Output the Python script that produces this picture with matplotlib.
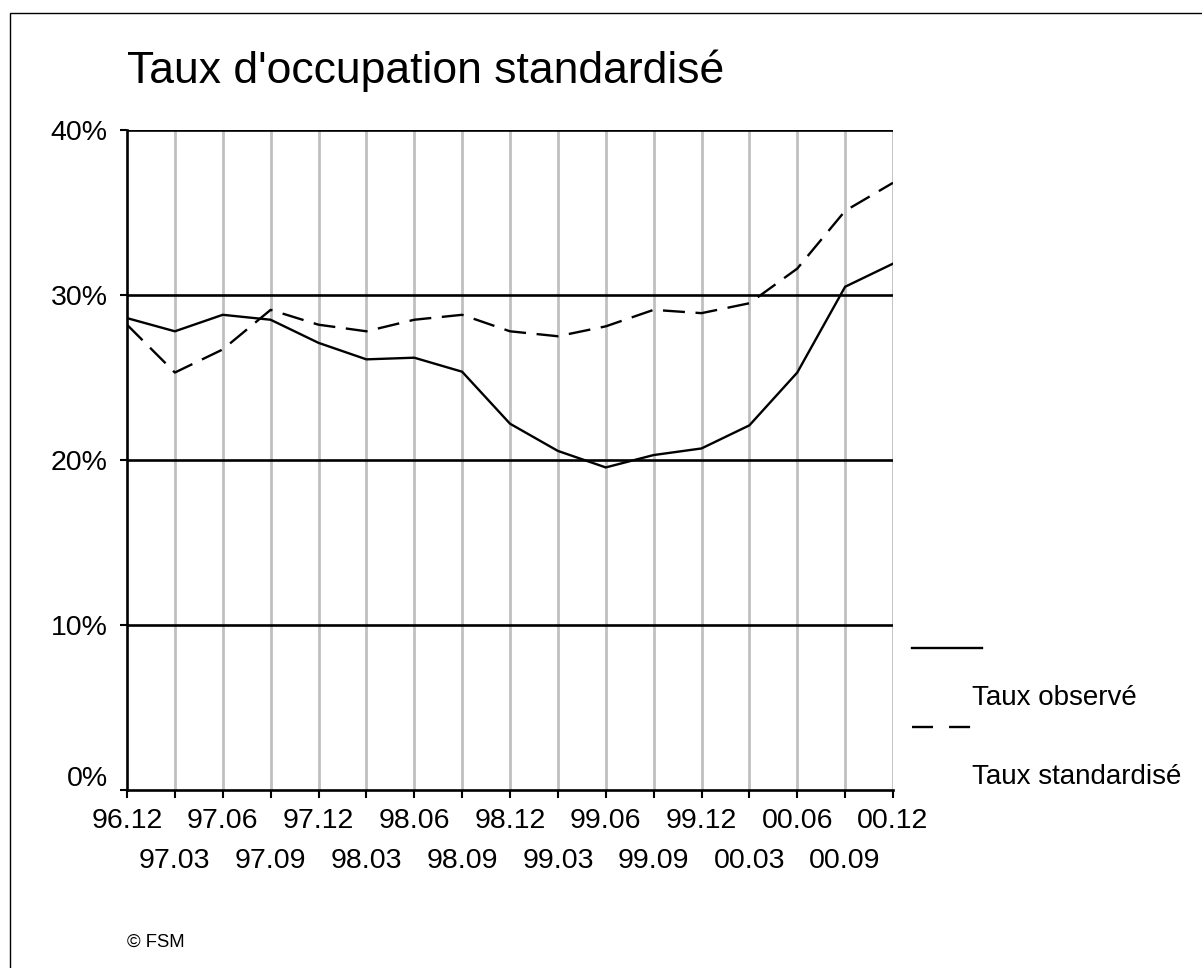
import matplotlib
matplotlib.use("Agg")
import matplotlib.pyplot as plt
import matplotlib.transforms as mtrans
from matplotlib.lines import Line2D
from matplotlib.patches import Rectangle

# Data (quarterly, in %)

quarters = ["96.12", "97.03", "97.06", "97.09", "97.12", "98.03", "98.06", "98.09",
            "98.12", "99.03", "99.06", "99.09", "99.12", "00.03", "00.06", "00.09",
            "00.12"]

taux_observe = [28.6, 27.8, 28.8, 28.5, 27.1, 26.1, 26.2, 25.35,
                22.2, 20.55, 19.55, 20.3, 20.7, 22.1, 25.3, 30.5,
                31.9]

taux_standardise = [28.2, 25.3, 26.7, 29.1, 28.2, 27.8, 28.5, 28.8,
                    27.8, 27.5, 28.1, 29.1, 28.9, 29.5, 31.6, 35.1,
                    36.8]

y_ticks = [0, 10, 20, 30, 40]

# --------------------------------------------------------------------------------------------------

plt.rcParams['font.family'] = ['Liberation Sans', 'DejaVu Sans']

W, H = 1202, 968
fig = plt.figure(figsize=(W / 100, H / 100), dpi=100)
ax = fig.add_axes([127 / W, 1 - 790 / H, (893 - 127) / W, (790 - 130) / H])

x = list(range(len(quarters)))

ax.plot(x, taux_observe, color='black', lw=1.7, solid_joinstyle='miter', zorder=4)
ax.plot(x, taux_standardise, color='black', lw=1.7, linestyle=(0, (9.3, 4.5)), zorder=4)

ax.set_xlim(0, len(quarters) - 1)
ax.set_ylim(0, 40)

# grid: black horizontal, light grey vertical
for v in y_ticks[1:]:
    ax.axhline(v, color='black', lw=1.9, zorder=2)
for xi in x[1:]:
    ax.axvline(xi, color='#c0c0c0', lw=2, zorder=1)

for side in ['top', 'right']:
    ax.spines[side].set_visible(False)
for side in ['left', 'bottom']:
    ax.spines[side].set_linewidth(1.9)
    ax.spines[side].set_zorder(3)

# ticks
ax.set_yticks(y_ticks)
ax.set_yticklabels([f"{v}%" for v in y_ticks])
ax.tick_params(axis='y', direction='out', length=5, width=1.5, pad=9, labelsize=20.5)

ax.set_xticks(x[0::2])
ax.set_xticklabels(quarters[0::2])
ax.set_xticks(x[1::2], minor=True)
ax.set_xticklabels(quarters[1::2], minor=True)
ax.tick_params(axis='x', which='major', direction='out', length=6, width=1.5, pad=7,
               labelsize=20.5)
ax.tick_params(axis='x', which='minor', direction='out', length=6, width=1.5, pad=36,
               labelsize=20.5)

# raise the 0% label a little
lab0 = ax.yaxis.get_major_ticks()[0].label1
lab0.set_transform(lab0.get_transform() +
                   mtrans.ScaledTranslation(0, 14 / 100, fig.dpi_scale_trans))

# --------------------------------------------------------------------------------------------------

# Title and credits
fig.text(127 / W, 1 - 71 / H, "Taux d'occupation standardisé", fontsize=32,
         ha='left', va='center')
fig.text(127 / W, 1 - 942 / H, "© FSM", fontsize=13.3, ha='left', va='center')

# Legend (line sample above, text below)
fig.add_artist(Line2D([912 / W, 982 / W], [1 - 648 / H, 1 - 648 / H],
                      color='black', lw=1.7, transform=fig.transFigure))
fig.text(972 / W, 1 - 698 / H, "Taux observé", fontsize=20, ha='left', va='center')
fig.add_artist(Line2D([912 / W, 973 / W], [1 - 727 / H, 1 - 727 / H],
                      color='black', lw=1.7, linestyle=(0, (8.9, 6.8)),
                      solid_capstyle='butt', dash_capstyle='butt',
                      transform=fig.transFigure))
fig.text(972 / W, 1 - 777 / H, "Taux standardisé", fontsize=20, ha='left', va='center')

# Outer frame
fig.patches.append(Rectangle((10.5 / W, -0.01), 1.1, 1 - 13 / H + 0.01, fill=False,
                             edgecolor='black', lw=1, transform=fig.transFigure))

fig.savefig('out.png', dpi=100)
